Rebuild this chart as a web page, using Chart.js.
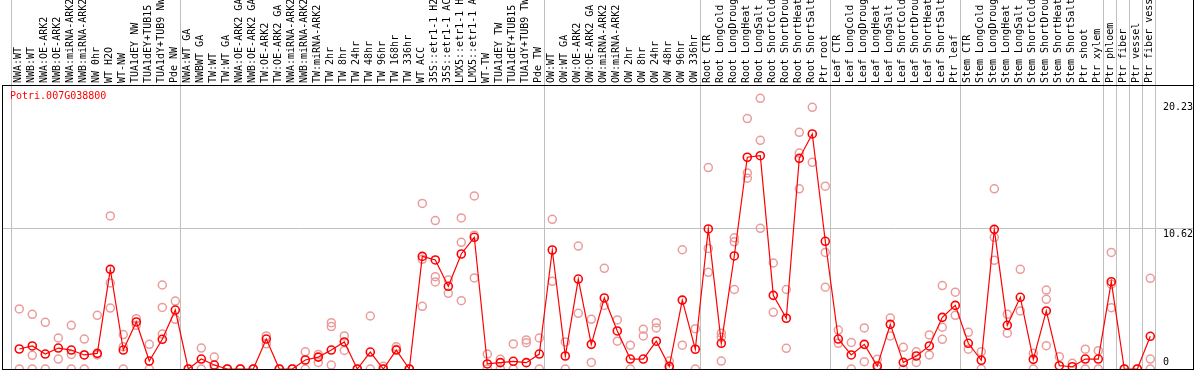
<!DOCTYPE html>
<html>
<head>
<meta charset="utf-8">
<title>Potri.007G038800</title>
<script src="https://cdn.jsdelivr.net/npm/chart.js@4.4.1/dist/chart.umd.min.js"></script>
<style>
  body { margin: 0; background: #fff; }
  #wrap { position: relative; width: 1194px; height: 370px; }
</style>
</head>
<body>
<div id="wrap"><canvas id="chart"></canvas></div>
<script>
// sample names (already cut to 14 chars like the original)
const labels = [
  'NWA:WT', 'NWB:WT', 'NWA:OE-ARK2', 'NWB:OE-ARK2', 'NWA:miRNA-ARK2', 'NWB:miRNA-ARK2',
  'NW 0hr', 'WT H2O', 'WT-NW', 'TUA1dEY NW', 'TUA1dEY+TUB15', 'TUA1dY+TUB9 NW', 'Pde NW',
  'NWA:WT GA', 'NWBWT GA', 'TW:WT', 'TW:WT GA', 'NWA:OE-ARK2 GA', 'NWB:OE-ARK2 GA',
  'TW:OE-ARK2', 'TW:OE-ARK2 GA', 'NWA:miRNA-ARK2', 'NWB:miRNA-ARK2', 'TW:miRNA-ARK2',
  'TW 2hr', 'TW 8hr', 'TW 24hr', 'TW 48hr', 'TW 96hr', 'TW 168hr', 'TW 336hr', 'WT ACC',
  '35S::etr1-1 H2', '35S::etr1-1 AC', 'LMX5::etr1-1 H', 'LMX5::etr1-1 A', 'WT-TW',
  'TUA1dEY TW', 'TUA1dEY+TUB15', 'TUA1dY+TUB9 TW', 'Pde TW',
  'OW:WT', 'OW:WT GA', 'OW:OE-ARK2', 'OW:OE-ARK2 GA', 'OW:miRNA-ARK2', 'OW:miRNA-ARK2',
  'OW 2hr', 'OW 8hr', 'OW 24hr', 'OW 48hr', 'OW 96hr', 'OW 336hr',
  'Root CTR', 'Root LongCold', 'Root LongDroug', 'Root LongHeat', 'Root LongSalt',
  'Root ShortCold', 'Root ShortDrou', 'Root ShortHeat', 'Root ShortSalt', 'Ptr root',
  'Leaf CTR', 'Leaf LongCold', 'Leaf LongDroug', 'Leaf LongHeat', 'Leaf LongSalt',
  'Leaf ShortCold', 'Leaf ShortDrou', 'Leaf ShortHeat', 'Leaf ShortSalt', 'Ptr leaf',
  'Stem CTR', 'Stem LongCold', 'Stem LongDroug', 'Stem LongHeat', 'Stem LongSalt',
  'Stem ShortCold', 'Stem ShortDrou', 'Stem ShortHeat', 'Stem ShortSalt', 'Ptr shoot',
  'Ptr xylem', 'Ptr phloem', 'Ptr fiber', 'Ptr vessel', 'Ptr fiber vess'
];

// mean expression (red line)
const means = [
  1.51, 1.74, 1.13, 1.58, 1.43, 1.06, 1.18, 7.52, 1.43, 3.55,
  0.6, 2.24, 4.45, 0, 0.75, 0.3, 0, 0, 0, 2.26,
  0, 0, 0.68, 0.9, 1.43, 2.04, 0, 1.28, 0, 1.43,
  0, 8.5, 8.23, 6.24, 8.68, 9.94, 0.38, 0.48, 0.58, 0.48,
  1.13, 8.98, 0.98, 6.79, 1.86, 5.36, 2.87, 0.75, 0.75, 2.1,
  0.2, 5.2, 1.49, 10.57, 1.94, 8.53, 15.98, 16.1, 5.56, 3.83,
  15.9, 17.74, 9.64, 2.26, 1.06, 1.86, 0.23, 3.37, 0.5, 0.98,
  1.74, 3.9, 4.8, 1.94, 0.66, 10.54, 3.3, 5.41, 0.73, 4.38,
  0.25, 0.17, 0.75, 0.75, 6.59, 0, 0, 2.47
];

// single replicates (faded circles), null where there is none
const rep1 = [
  4.53, 4.13, 3.52, 2.34, 3.3, 2.26, 4.05, 11.55, 2.6, 3.8,
  1.86, 6.34, 5.13, 0, 1.58, 0.9, 0, 0, 0, 2.5,
  0, 0, 1.3, 1.1, 3.5, 2.5, 0, 4.0, 0.2, 1.68,
  0, 12.5, 11.2, 6.72, 11.4, 13.06, 1.13, 0.73, 1.89, 2.19,
  2.34, 11.3, 2.04, 9.28, 3.75, 7.6, 3.7, 1.8, 3.0, 3.5,
  0.6, 9.0, 3.04, 15.2, 2.7, 9.9, 18.9, 20.43, 8.0, 6.0,
  17.86, 19.75, 13.8, 2.94, 2.0, 3.1, 0.73, 3.85, 1.64, 1.3,
  2.57, 6.3, 5.8, 2.77, 1.3, 13.6, 4.13, 7.52, 1.18, 5.96,
  0.93, 0.43, 1.5, 1.38, 8.8, 0, 0, 6.84
];
const rep2 = [
  0, 1.03, 0, 0.75, 1.1, 1.06, 1.06, 6.5, 1.68, 3.3,
  0, 4.65, 3.75, null, 0, 0, 0, 0, 0, 1.9,
  0, 0, 0, 0.5, 3.2, 1.4, null, 0, 0, 1.5,
  0, 8.28, 6.97, 5.71, 9.56, 10.1, 0, 0, 0, 1.98,
  0, 6.62, 0, 4.2, 0.5, 4.8, 2.1, 0, 2.5, 3.1,
  0, 1.8, 0, 9.1, 2.4, 9.6, 14.8, 17.26, 4.28, 1.56,
  16.3, 15.6, 8.8, 1.94, 0, 0.55, 0, 2.5, 0, 0.5,
  1.06, 3.15, 4.05, 1.5, 0, 9.94, 2.7, 4.38, 0, 5.26,
  null, null, 0, 0, 6.4, null, null, 0.75
];
const rep3 = [
  null, 0, null, null, 0, 0, null, 4.6, 0, null,
  null, 2.64, null, null, null, null, null, null, null, null,
  null, null, null, null, 0.3, null, null, null, null, null,
  null, 4.73, 6.57, null, 5.16, 6.87, null, null, null, null,
  null, null, null, null, null, null, null, null, null, null,
  null, null, null, 7.3, 0.6, 6.0, 14.4, 10.62, null, null,
  13.6, null, 6.17, null, null, null, null, null, null, null,
  null, 2.24, null, null, null, 8.2, null, null, null, 1.76,
  null, null, null, null, 4.63, null, null, 0
];

// first sample of each block (grey separators), last entry closes the final block
const groupStarts = [0, 13, 41, 53, 63, 73, 84, 85, 86, 87, 88];
const yTicks = [0, 10.62, 20.23];
const yTickLabels = ['0', '10.62', '20.23'];
const geneId = 'Potri.007G038800';

// column geometry: 13px per sample, first sample 19.3px from the left edge
const colW = 13, firstX = 19.3, pxPerUnit = 13.25;
const monoFont = { family: 'DejaVu Sans Mono', size: 10 };

const toPoints = arr => arr.map((v, i) => v === null ? null : { x: i, y: v }).filter(p => p);

const repStyle = {
  showLine: false,
  pointRadius: 4,
  pointBorderWidth: 1.5,
  pointBorderColor: '#eb9b9b',
  pointBackgroundColor: 'rgba(0,0,0,0)'
};

const extras = {
  id: 'extras',
  afterDraw(chart) {
    const { ctx, chartArea, scales } = chart;
    ctx.save();
    ctx.font = '10px "DejaVu Sans Mono"';
    ctx.textBaseline = 'top';
    ctx.fillStyle = '#000';
    yTicks.forEach((v, k) => {
      const py = Math.min(scales.y.getPixelForValue(v) + 1, chartArea.bottom - 12);
      ctx.fillText(yTickLabels[k], chartArea.right - 30, py);
    });
    ctx.fillStyle = '#ff0000';
    ctx.fillText(geneId, chartArea.left + 8, chartArea.top + 6);
    // frame continues up through the label strip on the right
    ctx.strokeStyle = '#000';
    ctx.lineWidth = 1;
    ctx.beginPath();
    ctx.moveTo(chartArea.right + 0.5, 0);
    ctx.lineTo(chartArea.right + 0.5, chartArea.top);
    ctx.stroke();
    ctx.restore();
  }
};

const xCommon = { type: 'linear', min: -1.33, max: 90.28, bounds: 'data' };

const chart = new Chart(document.getElementById('chart'), {
  type: 'scatter',
  data: {
    datasets: [
      {
        data: toPoints(means),
        showLine: true,
        borderColor: '#ff0000',
        borderWidth: 1.2,
        pointRadius: 4,
        pointBorderWidth: 1.6,
        pointBorderColor: '#ff0000',
        pointBackgroundColor: 'rgba(0,0,0,0)'
      },
      Object.assign({ data: toPoints(rep1) }, repStyle),
      Object.assign({ data: toPoints(rep2) }, repStyle),
      Object.assign({ data: toPoints(rep3) }, repStyle)
    ]
  },
  options: {
    responsive: true,
    maintainAspectRatio: false,
    animation: false,
    events: [],
    layout: { padding: 0, autoPadding: false },
    plugins: { legend: { display: false }, tooltip: { enabled: false } },
    scales: {
      x: Object.assign({}, xCommon, {
        position: 'bottom',
        grid: { display: false },
        ticks: { display: false },
        border: { display: true, color: '#000', width: 1 },
        afterFit: s => { s.height = 1; s.paddingLeft = 0; s.paddingRight = 0; }
      }),
      xGrid: Object.assign({}, xCommon, {
        position: 'top', weight: 0,
        afterBuildTicks: s => { s.ticks = groupStarts.map(g => ({ value: g - 0.62 })); },
        grid: { color: '#c0c0c0', lineWidth: 1, drawTicks: true, tickLength: 85, drawOnChartArea: true },
        ticks: { display: false },
        border: { display: false },
        afterFit: s => { s.height = 0; s.paddingLeft = 0; s.paddingRight = 0; }
      }),
      xTop: Object.assign({}, xCommon, {
        position: 'top', weight: 1,
        afterBuildTicks: s => { s.ticks = labels.map((_, i) => ({ value: i })); },
        grid: { display: false, drawTicks: false },
        border: { display: true, color: '#000', width: 1 },
        ticks: {
          autoSkip: false, minRotation: 90, maxRotation: 90,
          padding: 2, labelOffset: 11,
          color: '#000', font: monoFont,
          callback: v => labels[v]
        },
        afterFit: s => { s.height = 85; s.paddingLeft = 0; s.paddingRight = 0; }
      }),
      y: {
        type: 'linear', position: 'right', min: 0, max: 21.43,
        afterBuildTicks: s => { s.ticks = yTicks.map(v => ({ value: v })); },
        grid: {
          drawTicks: false,
          color: c => (c.tick && c.tick.value === 10.62) ? '#c0c0c0' : 'rgba(0,0,0,0)'
        },
        ticks: { display: false },
        border: { display: true, color: '#000', width: 1 },
        afterFit: s => { s.width = 1; s.paddingTop = 0; s.paddingBottom = 0; }
      },
      yLeft: {
        type: 'linear', position: 'left', min: 0, max: 21.43,
        grid: { display: false, drawTicks: false },
        ticks: { display: false },
        border: { display: true, color: '#000', width: 1 },
        afterFit: s => { s.width = 2; s.paddingTop = 0; s.paddingBottom = 0; }
      }
    }
  },
  plugins: [extras]
});

// pin the value ranges to the laid-out plot box so columns sit 13px apart
const ca = chart.chartArea;
const xMin = -(firstX - ca.left) / colW;
const xMax = xMin + (ca.right - ca.left) / colW;
['x', 'xGrid', 'xTop'].forEach(id => {
  chart.options.scales[id].min = xMin;
  chart.options.scales[id].max = xMax;
});
chart.options.scales.y.max = (ca.bottom - ca.top) / pxPerUnit;
chart.options.scales.yLeft.max = chart.options.scales.y.max;
chart.update();
</script>
</body>
</html>
